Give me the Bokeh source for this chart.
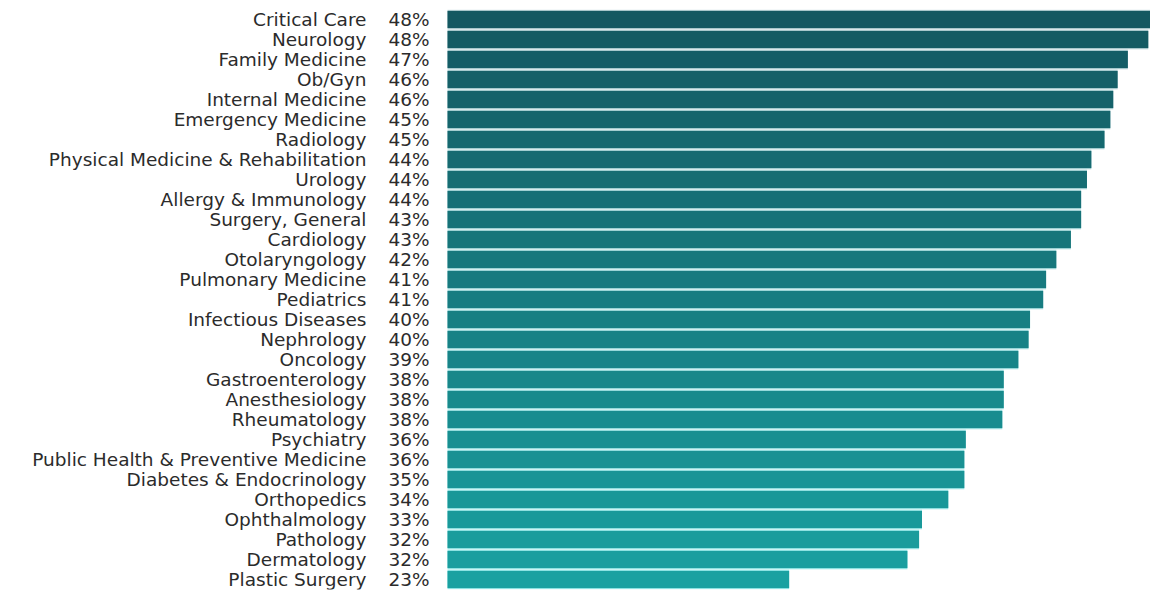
from bokeh.plotting import figure
from bokeh.models import ColumnDataSource, FactorRange, Range1d
from bokeh.core.properties import value
from bokeh.embed import file_html
from bokeh.resources import INLINE

specialties = [
    "Critical Care", "Neurology", "Family Medicine", "Ob/Gyn", "Internal Medicine",
    "Emergency Medicine", "Radiology", "Physical Medicine & Rehabilitation", "Urology",
    "Allergy & Immunology", "Surgery, General", "Cardiology", "Otolaryngology",
    "Pulmonary Medicine", "Pediatrics", "Infectious Diseases", "Nephrology", "Oncology",
    "Gastroenterology", "Anesthesiology", "Rheumatology", "Psychiatry",
    "Public Health & Preventive Medicine", "Diabetes & Endocrinology", "Orthopedics",
    "Ophthalmology", "Pathology", "Dermatology", "Plastic Surgery",
]
# bar lengths (percent)
values = [48.3, 48.0, 46.6, 45.9, 45.6, 45.4, 45.0, 44.1, 43.8, 43.4, 43.4, 42.7, 41.7,
          41.0, 40.8, 39.9, 39.8, 39.1, 38.1, 38.1, 38.0, 35.5, 35.4, 35.4, 34.3, 32.5,
          32.3, 31.5, 23.4]
# percent labels as printed
labels = [48, 48, 47, 46, 46, 45, 45, 44, 44, 44, 43, 43, 42, 41, 41, 40, 40, 39, 38, 38,
          38, 36, 36, 35, 34, 33, 32, 32, 23]


def mix(c1, c2, t):
    return "#%02x%02x%02x" % tuple(round(a + (b - a) * t) for a, b in zip(c1, c2))


top_c = (0x14, 0x58, 0x61)
bot_c = (0x1a, 0xa1, 0xa1)
n = len(specialties)
fills = [mix(top_c, bot_c, i / (n - 1)) for i in range(n)]
edge_top = (0xa8, 0xc6, 0xca)
edge_bot = (0x8c, 0xe2, 0xe2)
edges = [mix(edge_top, edge_bot, i / (n - 1)) for i in range(n)]

src = ColumnDataSource(dict(
    cat=specialties, val=values, fill=fills, edge=edges,
    pct=[f"{v}%" for v in labels], zero=[0] * n,
))

px_per_unit = 14.6
left_px = 447
W, H = 1150, 591
x_start = -left_px / px_per_unit
x_end = (W - left_px) / px_per_unit

p = figure(width=W, height=H, output_backend="svg", toolbar_location=None,
           y_range=FactorRange(factors=list(reversed(specialties))),
           x_range=Range1d(x_start, x_end),
           min_border_left=0, min_border_right=0, min_border_top=9, min_border_bottom=2,
           x_axis_location=None, y_axis_location=None)
p.outline_line_color = None
p.grid.visible = False
p.background_fill_color = "white"
p.border_fill_color = "white"

p.hbar(y="cat", left="zero", right="val", height=0.97, source=src,
       fill_color="edge", line_color=None)
p.hbar(y="cat", left="zero", right="val", height=0.84, source=src,
       fill_color="fill", line_color=None)

p.text(x="zero", y="cat", text="cat", source=src, x_offset=-81,
       text_align="right", text_baseline="middle", text_font=value("DejaVu Sans"),
       text_font_size="18.5px", text_color="#2b2b2b")
p.text(x="zero", y="cat", text="pct", source=src, x_offset=-59,
       text_align="left", text_baseline="middle", text_font=value("DejaVu Sans"),
       text_font_size="18.5px", text_color="#2b2b2b")

open("out.html", "w").write(file_html(p, INLINE))
